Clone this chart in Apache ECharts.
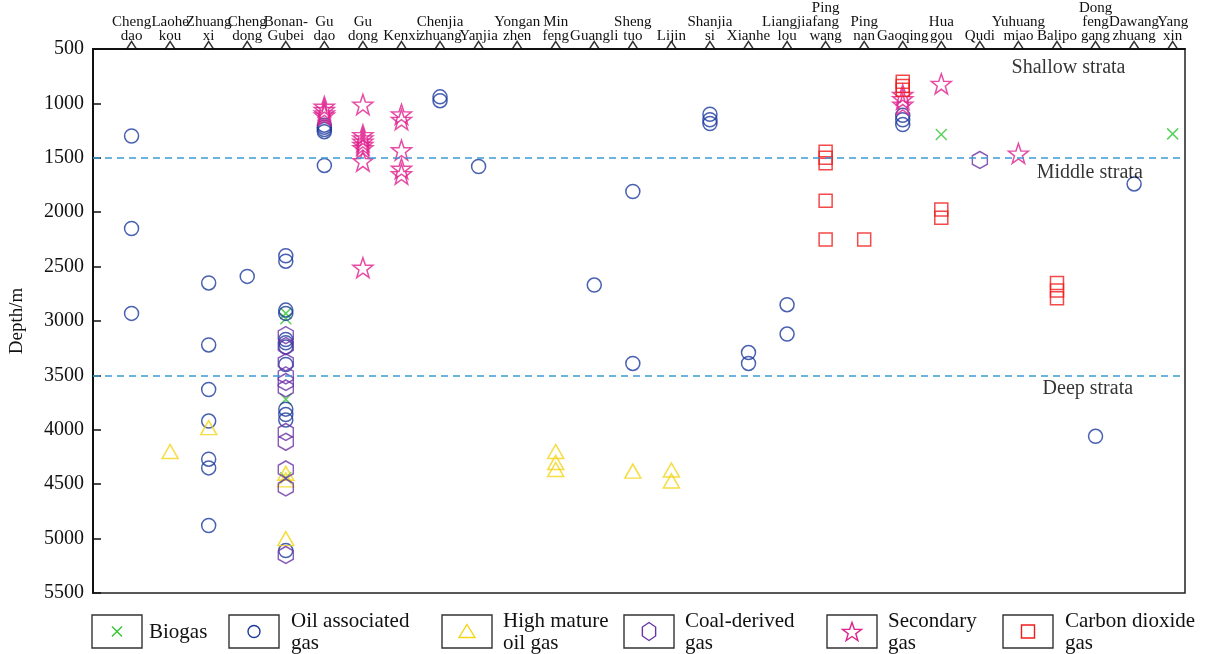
<!DOCTYPE html>
<html>
<head>
<meta charset="utf-8">
<title>Gas types by depth and oilfield</title>
<script src="https://cdn.jsdelivr.net/npm/echarts@6/dist/echarts.min.js"></script>
<style>
  html, body { margin: 0; padding: 0; background: #fff; }
  #chart { width: 1206px; height: 654px; }
</style>
</head>
<body>
<div id="chart"></div>
<script>
// Oilfields along the top axis, in order
const sites = ['Chengdao', 'Laohekou', 'Zhuangxi', 'Chengdong', 'Bonan-Gubei', 'Gudao', 'Gudong', 'Kenxi',
  'Chenjiazhuang', 'Yanjia', 'Yonganzhen', 'Minfeng', 'Guangli', 'Shengtuo', 'Lijin', 'Shanjiasi', 'Xianhe',
  'Liangjialou', 'Pingfangwang', 'Pingnan', 'Gaoqing', 'Huagou', 'Qudi', 'Yuhuangmiao', 'Balipo',
  'Dongfenggang', 'Dawangzhuang', 'Yangxin'];
const siteLabels = ['Cheng\ndao', 'Laohe\nkou', 'Zhuang\nxi', 'Cheng\ndong', 'Bonan-\nGubei', 'Gu\ndao', 'Gu\ndong',
  'Kenxi', 'Chenjia\nzhuang', 'Yanjia', 'Yongan\nzhen', 'Min\nfeng', 'Guangli', 'Sheng\ntuo', 'Lijin', 'Shanjia\nsi',
  'Xianhe', 'Liangjia\nlou', 'Ping\nfang\nwang', 'Ping\nnan', 'Gaoqing', 'Hua\ngou', 'Qudi', 'Yuhuang\nmiao',
  'Balipo', 'Dong\nfeng\ngang', 'Dawang\nzhuang', 'Yang\nxin'];

// Depth axis (m)
const depthMin = 500;
const depthMax = 5500;
const depthStep = 500;
const strataBounds = [1500, 3500];

// Samples: [oilfield, depth in m]
const biogas = [
  ['Bonan-Gubei', 2930], ['Bonan-Gubei', 2980], ['Bonan-Gubei', 3720], ['Bonan-Gubei', 4440],
  ['Huagou', 1285], ['Yangxin', 1280]
];
const oilAssociated = [
  ['Chengdao', 1300], ['Chengdao', 2150], ['Chengdao', 2930],
  ['Zhuangxi', 2650], ['Zhuangxi', 3220], ['Zhuangxi', 3630], ['Zhuangxi', 3920], ['Zhuangxi', 4270],
  ['Zhuangxi', 4350], ['Zhuangxi', 4880],
  ['Chengdong', 2590],
  ['Bonan-Gubei', 2400], ['Bonan-Gubei', 2450], ['Bonan-Gubei', 2900], ['Bonan-Gubei', 2930],
  ['Bonan-Gubei', 3170], ['Bonan-Gubei', 3200], ['Bonan-Gubei', 3240], ['Bonan-Gubei', 3400],
  ['Bonan-Gubei', 3810], ['Bonan-Gubei', 3860], ['Bonan-Gubei', 3910], ['Bonan-Gubei', 5110],
  ['Gudao', 1200], ['Gudao', 1220], ['Gudao', 1240], ['Gudao', 1260], ['Gudao', 1570],
  ['Chenjiazhuang', 940], ['Chenjiazhuang', 975],
  ['Yanjia', 1580], ['Guangli', 2670], ['Shengtuo', 1810], ['Shengtuo', 3390],
  ['Shanjiasi', 1100], ['Shanjiasi', 1150], ['Shanjiasi', 1185],
  ['Xianhe', 3290], ['Xianhe', 3390], ['Liangjialou', 2850], ['Liangjialou', 3120],
  ['Gaoqing', 1110], ['Gaoqing', 1150], ['Gaoqing', 1195],
  ['Dongfenggang', 4060], ['Dawangzhuang', 1740]
];
const highMature = [
  ['Laohekou', 4200], ['Zhuangxi', 3980],
  ['Bonan-Gubei', 4400], ['Bonan-Gubei', 4460], ['Bonan-Gubei', 5000],
  ['Minfeng', 4200], ['Minfeng', 4300], ['Minfeng', 4365],
  ['Shengtuo', 4380], ['Lijin', 4370], ['Lijin', 4470]
];
const coalDerived = [
  ['Bonan-Gubei', 3130], ['Bonan-Gubei', 3230], ['Bonan-Gubei', 3380], ['Bonan-Gubei', 3500],
  ['Bonan-Gubei', 3560], ['Bonan-Gubei', 3620], ['Bonan-Gubei', 4020], ['Bonan-Gubei', 4110],
  ['Bonan-Gubei', 4365], ['Bonan-Gubei', 4530], ['Bonan-Gubei', 5150],
  ['Qudi', 1520]
];
const secondary = [
  ['Gudao', 1030], ['Gudao', 1060], ['Gudao', 1090], ['Gudao', 1110],
  ['Gudong', 1010], ['Gudong', 1290], ['Gudong', 1320], ['Gudong', 1350], ['Gudong', 1380],
  ['Gudong', 1410], ['Gudong', 1530], ['Gudong', 2510],
  ['Kenxi', 1100], ['Kenxi', 1150], ['Kenxi', 1430], ['Kenxi', 1600], ['Kenxi', 1650],
  ['Gaoqing', 920], ['Gaoqing', 960], ['Gaoqing', 1010],
  ['Huagou', 820], ['Yuhuangmiao', 1460]
];
const carbonDioxide = [
  ['Pingfangwang', 1445], ['Pingfangwang', 1500], ['Pingfangwang', 1550], ['Pingfangwang', 1895],
  ['Pingfangwang', 2250], ['Pingnan', 2250],
  ['Gaoqing', 800], ['Gaoqing', 840], ['Gaoqing', 875],
  ['Huagou', 1975], ['Huagou', 2050],
  ['Balipo', 2650], ['Balipo', 2720], ['Balipo', 2790]
];

// Strata annotations: [x position in site units, depth, text]
const strataLabels = [
  [25.3, 670, 'Shallow strata'],
  [25.85, 1635, 'Middle strata'],
  [25.8, 3625, 'Deep strata']
];

const FONT = '"Liberation Serif", "DejaVu Serif", serif';

function toPoints(list) {
  return list.map(([site, depth]) => [sites.indexOf(site) + 1, depth]);
}

// Outline polygon helpers (unit radius), used for both marks and legend keys
function starPoints(r) {
  const pts = [];
  for (let k = 0; k < 10; k++) {
    const a = (-90 + 36 * k) * Math.PI / 180;
    const rr = k % 2 === 0 ? r : r * 0.4;
    pts.push([rr * Math.cos(a), rr * Math.sin(a)]);
  }
  return pts;
}
function hexPoints(r) {
  const pts = [];
  for (let k = 0; k < 6; k++) {
    const a = (-90 + 60 * k) * Math.PI / 180;
    pts.push([r * Math.cos(a), r * Math.sin(a)]);
  }
  return pts;
}
function toPath(pts) {
  return 'path://' + pts.map((p, i) => (i ? 'L' : 'M') + p[0].toFixed(3) + ',' + p[1].toFixed(3)).join('') + 'Z';
}

const gasTypes = [
  { name: 'Biogas', label: 'Biogas', data: biogas, color: '#33c533',
    symbol: 'path://M0,0L1,1M1,0L0,1', size: 11, key: 'cross' },
  { name: 'Oil associated gas', label: 'Oil associated\ngas', data: oilAssociated, color: '#1c3a9e',
    symbol: 'circle', size: 14, key: 'circle' },
  { name: 'High mature oil gas', label: 'High mature\noil gas', data: highMature, color: '#f3d514',
    symbol: 'triangle', size: [16, 14], key: 'triangle' },
  { name: 'Coal-derived gas', label: 'Coal-derived\ngas', data: coalDerived, color: '#6a33a6',
    symbol: toPath(hexPoints(1)), size: [15, 17], key: 'hexagon' },
  { name: 'Secondary gas', label: 'Secondary\ngas', data: secondary, color: '#e0208e',
    symbol: toPath(starPoints(1)), size: 20, key: 'star' },
  { name: 'Carbon dioxide gas', label: 'Carbon dioxide\ngas', data: carbonDioxide, color: '#f01c1c',
    symbol: 'rect', size: 13, key: 'square' }
];

const series = gasTypes.map(g => ({
  name: g.name,
  type: 'scatter',
  data: toPoints(g.data),
  symbol: g.symbol,
  symbolSize: g.size,
  clip: false,
  itemStyle: { color: 'rgba(0,0,0,0)', borderColor: g.color, borderWidth: 1.5 },
  emphasis: { disabled: true }
}));

// Open triangles marking each oilfield on the top frame
series.push({
  name: 'sites',
  type: 'scatter',
  data: sites.map((s, i) => [i + 1, depthMin]),
  symbol: 'triangle',
  symbolSize: [9, 7],
  symbolOffset: [0, -4],
  clip: false,
  silent: true,
  z: 10,
  itemStyle: { color: '#fff', borderColor: '#000', borderWidth: 1.4 }
});

// Strata boundaries and names
series.push({
  name: 'strata',
  type: 'scatter',
  data: strataLabels,
  symbolSize: 0,
  silent: true,
  clip: false,
  label: {
    show: true, position: 'inside', formatter: p => p.data[2],
    color: '#000', fontSize: 20, fontFamily: FONT
  },
  markLine: {
    silent: true,
    symbol: ['none', 'none'],
    label: { show: false },
    lineStyle: { color: '#3d9ad4', type: [7, 5], width: 1.5 },
    data: strataBounds.map(d => ({ yAxis: d }))
  }
});

// Legend: boxed keys with two-line captions along the bottom
const legendLayout = [
  { box: 92, text: 149 }, { box: 229, text: 291 }, { box: 442, text: 503 },
  { box: 624, text: 685 }, { box: 827, text: 888 }, { box: 1003, text: 1065 }
];
const graphics = [];
gasTypes.forEach((g, i) => {
  const L = legendLayout[i];
  const cx = L.box + 25, cy = 631.5;
  graphics.push({
    type: 'rect', shape: { x: L.box, y: 615, width: 50, height: 33 },
    style: { fill: 'none', stroke: '#333', lineWidth: 1.4 }, silent: true
  });
  const st = { fill: 'none', stroke: g.color, lineWidth: 1.4 };
  if (g.key === 'cross') {
    graphics.push({ type: 'line', shape: { x1: cx - 5, y1: cy - 5, x2: cx + 5, y2: cy + 5 }, style: st, silent: true });
    graphics.push({ type: 'line', shape: { x1: cx + 5, y1: cy - 5, x2: cx - 5, y2: cy + 5 }, style: st, silent: true });
  } else if (g.key === 'circle') {
    graphics.push({ type: 'circle', shape: { cx, cy, r: 6 }, style: st, silent: true });
  } else if (g.key === 'triangle') {
    graphics.push({ type: 'polygon', shape: { points: [[cx, cy - 7], [cx + 8, cy + 6], [cx - 8, cy + 6]] }, style: st, silent: true });
  } else if (g.key === 'hexagon') {
    graphics.push({ type: 'polygon', shape: { points: hexPoints(9).map(p => [cx + p[0] * 0.85, cy + p[1]]) }, style: st, silent: true });
  } else if (g.key === 'star') {
    graphics.push({ type: 'polygon', shape: { points: starPoints(10).map(p => [cx + p[0], cy + p[1] + 1]) }, style: st, silent: true });
  } else {
    graphics.push({ type: 'rect', shape: { x: cx - 6.5, y: cy - 6.5, width: 13, height: 13 }, style: st, silent: true });
  }
  graphics.push({
    type: 'text', x: L.text, y: 632, silent: true,
    style: {
      text: g.label, fill: '#111', font: '21px ' + FONT, lineHeight: 22,
      textAlign: 'left', textVerticalAlign: 'middle'
    }
  });
});

const chart = echarts.init(document.getElementById('chart'), null, { renderer: 'canvas' });
chart.setOption({
  animation: false,
  backgroundColor: '#fff',
  grid: {
    left: 91, right: 21, top: 49, bottom: 61,
    show: true, borderColor: '#222', borderWidth: 1.5, backgroundColor: 'transparent'
  },
  xAxis: {
    type: 'value',
    position: 'top',
    min: 0,
    max: 28.32,
    interval: 1,
    splitLine: { show: false },
    axisLine: { show: true, lineStyle: { color: '#111', width: 2 } },
    axisTick: { show: false },
    axisLabel: {
      show: true,
      margin: 6,
      color: '#111',
      fontSize: 15,
      lineHeight: 14,
      fontFamily: FONT,
      showMaxLabel: false,
      formatter: v => (v >= 1 && v <= sites.length ? siteLabels[v - 1] : '')
    }
  },
  yAxis: {
    type: 'value',
    inverse: true,
    min: depthMin,
    max: depthMax,
    interval: depthStep,
    name: 'Depth/m',
    nameLocation: 'middle',
    nameRotate: 90,
    nameGap: 66,
    nameTextStyle: { color: '#111', fontSize: 19, fontFamily: FONT },
    splitLine: { show: false },
    axisLine: { show: true, lineStyle: { color: '#111', width: 2 } },
    axisTick: { show: true, inside: true, length: 8, lineStyle: { color: '#111', width: 1.5 } },
    axisLabel: { color: '#111', fontSize: 20, fontFamily: FONT, margin: 9, formatter: v => String(v) }
  },
  series,
  graphic: graphics
});
</script>
</body>
</html>
